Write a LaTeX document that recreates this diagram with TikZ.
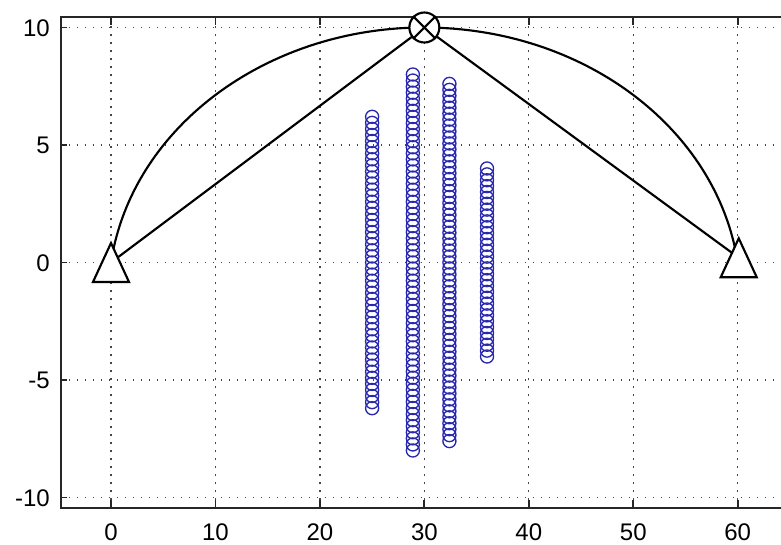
\documentclass[tikz,border=0pt]{standalone}
\usepackage{fontspec}
\setmainfont{Liberation Sans}
\usetikzlibrary{positioning}
\definecolor{rcvblue}{RGB}{40,40,175}
\definecolor{gridgray}{RGB}{70,70,70}

\begin{document}
\begin{tikzpicture}[
  x=7.834pt, y=17.625pt,
  every node/.style={font=\fontsize{18}{20}\selectfont},
  gridline/.style={gridgray, line width=0.9pt, dash pattern=on 1.2pt off 4.8pt},
  frame/.style={black!85, line width=1.3pt},
  ray/.style={black, line width=1.6pt},
  rcv/.style={rcvblue, line width=1pt},
  station/.style={draw, line width=1.6pt, fill=white},
  src/.style={draw, circle, line width=1.6pt, fill=white, minimum size=22.5pt, inner sep=0pt}]
\useasboundingbox (-10.627,-12.02) rectangle (64.146,11.17);
\foreach \x in {0,10,...,60}
  \draw[gridline] (\x,-10.45) -- (\x,10.45);
\foreach \y in {-10,-5,0,5,10}
  \draw[gridline] (-4.8,\y) -- (64.146,\y);
\draw[frame] (64.146,10.45) -- (-4.8,10.45) -- (-4.8,-10.45) -- (64.146,-10.45);
\foreach \x in {0,10,...,60} {
  \draw[frame] (\x,-10.45) -- ++(0,6pt);
  \draw[frame] (\x,10.45) -- ++(0,-6pt);
  \node[anchor=base, inner sep=0pt] (xl\x) at (\x,-11.81) {\x};
}
\foreach \y/\n in {-10/a,-5/b,0/c,5/d,10/e} {
  \draw[frame] (-4.8,\y) -- ++(4.5pt,0);
  \node[anchor=base east, inner sep=0pt] (yl\n) at (-5.84,{\y-0.38}) {\y};
}
\coordinate (stA) at (0,0);
\coordinate (stB) at (60.1,0.2);
\coordinate (top) at (30,10);
\draw[ray] (stA) -- (top) -- (stB);
\draw[ray] (stA) arc[start angle=172.5, end angle=7.5, x radius=30.26, y radius=11.5];
\foreach \cx/\h/\n in {25/6.2/24, 28.9/8/31, 32.4/7.6/30, 36/4/16}
  \foreach \k in {-\n,...,\n}
    \draw[rcv] (\cx,{\k*\h/\n}) circle[radius=4.9pt];
\draw[station] (stA) +(0,14.6pt) -- +(-13.5pt,-14.6pt) -- +(13.5pt,-14.6pt) -- cycle;
\draw[station] (stB) +(0,14.6pt) -- +(-13.5pt,-14.6pt) -- +(13.5pt,-14.6pt) -- cycle;
\node[src] (src) at (top) {};
\draw[ray] (src.north west) -- (src.south east) (src.north east) -- (src.south west);
\end{tikzpicture}
\end{document}
